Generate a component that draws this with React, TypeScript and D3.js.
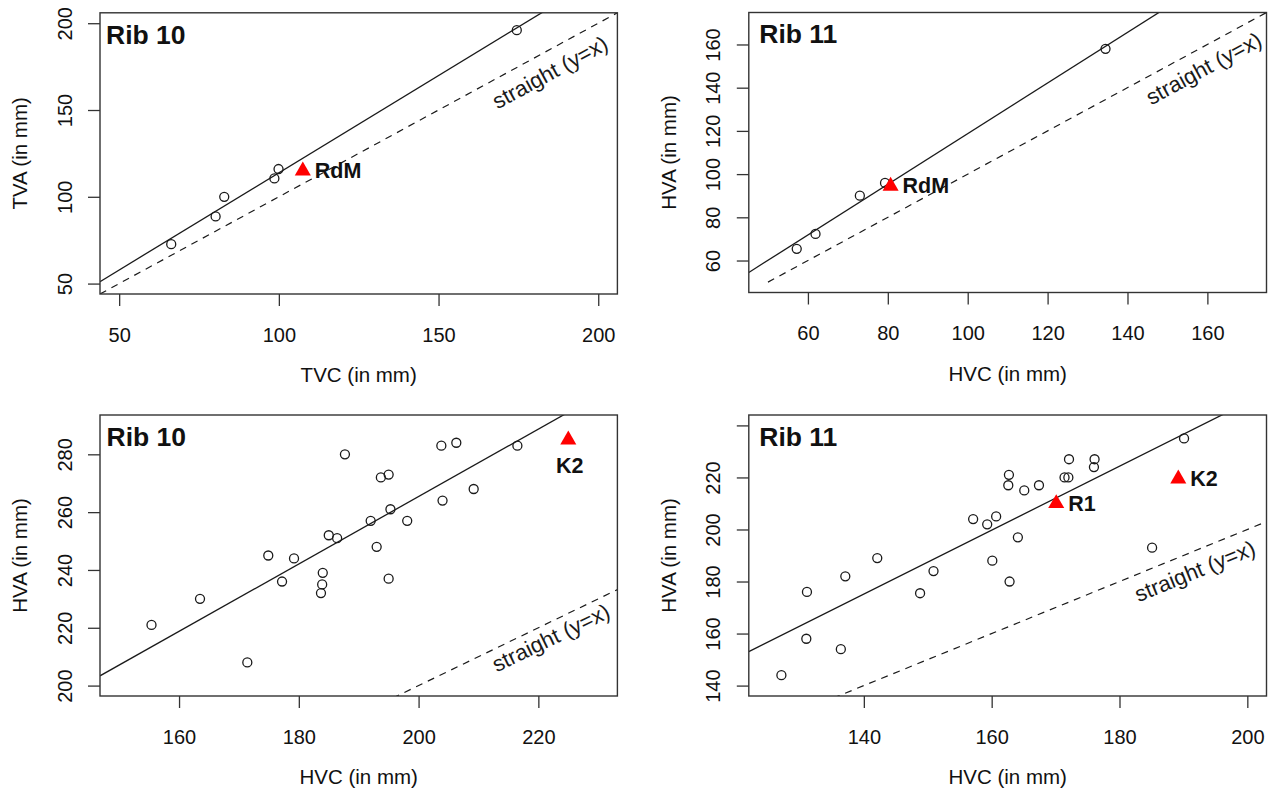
import React, { useEffect, useRef } from 'react';
import * as d3 from 'd3';

// Rib 10: TVC vs TVA
const tvcRib10 = [66.3, 80.2, 82.9, 98.6, 99.9, 174.5];
const tvaRib10 = [72.7, 88.7, 100.0, 110.6, 116.0, 196.0];
const rdmRib10 = { name: 'RdM', x: 107.5, y: 115 };

// Rib 11: HVC vs HVA (top)
const hvcRib11Top = [57.2, 61.9, 73.0, 79.3, 134.5];
const hvaRib11Top = [65.4, 72.3, 90.0, 95.9, 158.0];
const rdmRib11 = { name: 'RdM', x: 80.7, y: 94.5 };

// Rib 10: HVC vs HVA
const hvcRib10 = [155.4, 163.5, 171.4, 174.9, 177.2, 179.2, 183.7, 183.9, 184.0, 185.0, 186.4, 187.7,
  192.0, 193.0, 193.7, 195.0, 195.0, 195.3, 198.1, 203.8, 204.0, 206.3, 209.2, 216.5];
const hvaRib10 = [221, 230, 208, 245, 236, 244, 232, 235, 239, 252, 251, 280,
  257, 248, 272, 273, 237, 261, 257, 283, 264, 284, 268, 283];
const k2Rib10 = { name: 'K2', x: 225.0, y: 285 };

// Rib 11: HVC vs HVA
const hvcRib11 = [127.1, 131.0, 131.1, 136.4, 137.1, 142.1, 148.8, 150.9, 157.1, 159.3, 160.1, 160.7,
  162.7, 162.6, 162.8, 164.1, 165.1, 167.4, 171.4, 172.0, 172.1, 176.1, 176.0, 185.1, 190.1];
const hvaRib11 = [144, 158, 176, 154, 182, 189, 175.5, 184, 204, 202, 188, 205,
  221, 217, 180, 197, 215, 217, 220, 220, 227, 227, 224, 193, 235];
const r1Rib11 = { name: 'R1', x: 170.1, y: 210 };
const k2Rib11 = { name: 'K2', x: 189.2, y: 219.5 };

// regression fits (intercept, slope)
const fitTop10 = [1.84, 1.12];
const fitTop11 = [1.5, 1.172];
const fitBottom10 = [32.2, 1.166];
const fitBottom11 = [3.1, 1.229];

// ticks
const ticksTop10 = [50, 100, 150, 200];
const ticksTop11 = [60, 80, 100, 120, 140, 160];
const xTicksBottom10 = [160, 180, 200, 220];
const yTicksBottom10 = [200, 220, 240, 260, 280];
const xTicksBottom11 = [140, 160, 180, 200];
const yTicksBottom11 = [140, 160, 180, 200, 220, 240];
const yLabelsBottom11 = ['140', '160', '180', '200', '220', ''];

const FONT = '"Liberation Sans", Arial, Helvetica, sans-serif';

const panels = [
  {
    id: 'p1', title: 'Rib 10', titleDx: 6,
    left: 100, top: 12.8, right: 617.4, bottom: 294,
    xDomain: [44, 206], yDomain: [44, 206],
    xTicks: ticksTop10, yTicks: ticksTop10, yLabels: null,
    xs: tvcRib10, ys: tvaRib10, special: [{ ...rdmRib10, pos: 'right' }],
    fit: fitTop10, identityFrom: 44,
    straightAt: [184.9, 171.6],
    xTitle: 'TVC (in mm)', yTitle: 'TVA (in mm)',
  },
  {
    id: 'p2', title: 'Rib 11', titleDx: 10.5,
    left: 748.8, top: 12.5, right: 1266.5, bottom: 292.5,
    xDomain: [45.2, 174.8], yDomain: [45.2, 174.8],
    xTicks: ticksTop11, yTicks: ticksTop11, yLabels: null,
    xs: hvcRib11Top, ys: hvaRib11Top, special: [{ ...rdmRib11, pos: 'right' }],
    fit: fitTop11, identityFrom: 50,
    straightAt: [159.1, 148.9],
    xTitle: 'HVC (in mm)', yTitle: 'HVA (in mm)',
  },
  {
    id: 'p3', title: 'Rib 10', titleDx: 6.5,
    left: 100, top: 415, right: 617.4, bottom: 696,
    xDomain: [146.8, 233.2], yDomain: [196.4, 293.6],
    xTicks: xTicksBottom10, yTicks: yTicksBottom10, yLabels: null,
    xs: hvcRib10, ys: hvaRib10, special: [{ ...k2Rib10, pos: 'below' }],
    fit: fitBottom10, identityFrom: 146.8,
    straightAt: [222.1, 216.5],
    xTitle: 'HVC (in mm)', yTitle: 'HVA (in mm)',
  },
  {
    id: 'p4', title: 'Rib 11', titleDx: 10.5,
    left: 748.8, top: 415, right: 1266.5, bottom: 696,
    xDomain: [122, 203], yDomain: [136, 244],
    xTicks: xTicksBottom11, yTicks: yTicksBottom11, yLabels: yLabelsBottom11,
    xs: hvcRib11, ys: hvaRib11,
    special: [{ ...r1Rib11, pos: 'right' }, { ...k2Rib11, pos: 'right' }],
    fit: fitBottom11, identityFrom: 122,
    straightAt: [191.8, 184.0],
    xTitle: 'HVC (in mm)', yTitle: 'HVA (in mm)',
  },
];

const drawPanel = (svg, p) => {
  const x = d3.scaleLinear().domain(p.xDomain).range([p.left, p.right]);
  const y = d3.scaleLinear().domain(p.yDomain).range([p.bottom, p.top]);
  const g = svg.append('g');
  const ink = '#1a1a1a';

  g.append('clipPath').attr('id', `clip-${p.id}`)
    .append('rect')
    .attr('x', p.left).attr('y', p.top)
    .attr('width', p.right - p.left).attr('height', p.bottom - p.top);

  const plot = g.append('g').attr('clip-path', `url(#clip-${p.id})`);
  const [d0, d1] = x.domain();

  // fitted line
  const [a, b] = p.fit;
  plot.append('line')
    .attr('x1', x(d0)).attr('y1', y(a + b * d0))
    .attr('x2', x(d1)).attr('y2', y(a + b * d1))
    .attr('stroke', ink).attr('stroke-width', 1.3);

  // y = x line
  plot.append('line')
    .attr('x1', x(p.identityFrom)).attr('y1', y(p.identityFrom))
    .attr('x2', x(d1)).attr('y2', y(d1))
    .attr('stroke', ink).attr('stroke-width', 1.2)
    .attr('stroke-dasharray', '7,6');

  const angle = Math.atan2(y(d1) - y(d0), x(d1) - x(d0)) * 180 / Math.PI;
  const [sx, sy] = p.straightAt;
  g.append('text')
    .attr('transform', `translate(${x(sx)},${y(sy)}) rotate(${angle})`)
    .attr('text-anchor', 'middle')
    .attr('dominant-baseline', 'central')
    .style('font-family', FONT)
    .style('font-size', '22px')
    .style('fill', ink)
    .text('straight (y=x)');

  // points
  g.selectAll('.pt')
    .data(p.xs.map((v, i) => [v, p.ys[i]]))
    .enter().append('circle')
    .attr('class', 'pt')
    .attr('cx', d => x(d[0]))
    .attr('cy', d => y(d[1]))
    .attr('r', 4.5)
    .attr('fill', 'none')
    .attr('stroke', ink)
    .attr('stroke-width', 1.3);

  // special specimens
  const tri = d3.symbol().type(d3.symbolTriangle).size(112);
  p.special.forEach(s => {
    g.append('path')
      .attr('d', tri())
      .attr('transform', `translate(${x(s.x)},${y(s.y)})`)
      .attr('fill', '#ff0000');
    const t = g.append('text')
      .style('font-family', FONT)
      .style('font-size', '21.5px')
      .style('font-weight', 'bold')
      .style('fill', '#111')
      .text(s.name);
    if (s.pos === 'right') {
      t.attr('x', x(s.x) + 12).attr('y', y(s.y) + 7.5);
    } else {
      t.attr('x', x(s.x) + 1.5).attr('y', y(s.y) + 33.5).attr('text-anchor', 'middle');
    }
  });

  // box
  g.append('rect')
    .attr('x', p.left).attr('y', p.top)
    .attr('width', p.right - p.left).attr('height', p.bottom - p.top)
    .attr('fill', 'none').attr('stroke', '#333').attr('stroke-width', 1.4);

  // panel title
  g.append('text')
    .attr('x', p.left + p.titleDx).attr('y', p.top + 30.7)
    .style('font-family', FONT)
    .style('font-size', '26.5px')
    .style('font-weight', 'bold')
    .style('fill', '#111')
    .text(p.title);

  // axes
  const xAxis = g.append('g')
    .attr('transform', `translate(0,${p.bottom})`)
    .call(d3.axisBottom(x).tickValues(p.xTicks).tickSize(12).tickSizeOuter(0).tickFormat(d3.format('d')));
  const yAxis = g.append('g')
    .attr('transform', `translate(${p.left},0)`)
    .call(d3.axisLeft(y).tickValues(p.yTicks).tickSize(12).tickSizeOuter(0)
      .tickFormat((d, i) => (p.yLabels ? p.yLabels[i] : d3.format('d')(d))));

  [xAxis, yAxis].forEach(ax => {
    ax.select('.domain').remove();
    ax.selectAll('line').attr('stroke', '#333').attr('stroke-width', 1.3);
    ax.selectAll('text')
      .style('font-family', FONT)
      .style('font-size', '20px')
      .attr('fill', '#111');
  });
  xAxis.selectAll('text').attr('y', 47.5).attr('dy', 0);
  yAxis.selectAll('text')
    .attr('transform', 'rotate(-90)')
    .attr('x', 0).attr('y', -28.5).attr('dy', 0)
    .attr('text-anchor', 'middle');

  // axis titles
  g.append('text')
    .attr('x', (p.left + p.right) / 2).attr('y', p.bottom + 88)
    .attr('text-anchor', 'middle')
    .style('font-family', FONT).style('font-size', '20.5px').style('fill', '#111')
    .text(p.xTitle);
  g.append('text')
    .attr('transform', `translate(${p.left - 73},${(p.top + p.bottom) / 2}) rotate(-90)`)
    .attr('text-anchor', 'middle')
    .style('font-family', FONT).style('font-size', '20.5px').style('fill', '#111')
    .text(p.yTitle);
};

const App = () => {
  const svgRef = useRef(null);

  useEffect(() => {
    const svg = d3.select(svgRef.current);
    svg.selectAll('*').remove();
    panels.forEach(p => drawPanel(svg, p));
  }, []);

  return (
    <svg
      ref={svgRef}
      width={1275}
      height={794}
      style={{ position: 'absolute', left: 0, top: 0, background: '#fff' }}
    />
  );
};

export default App;
